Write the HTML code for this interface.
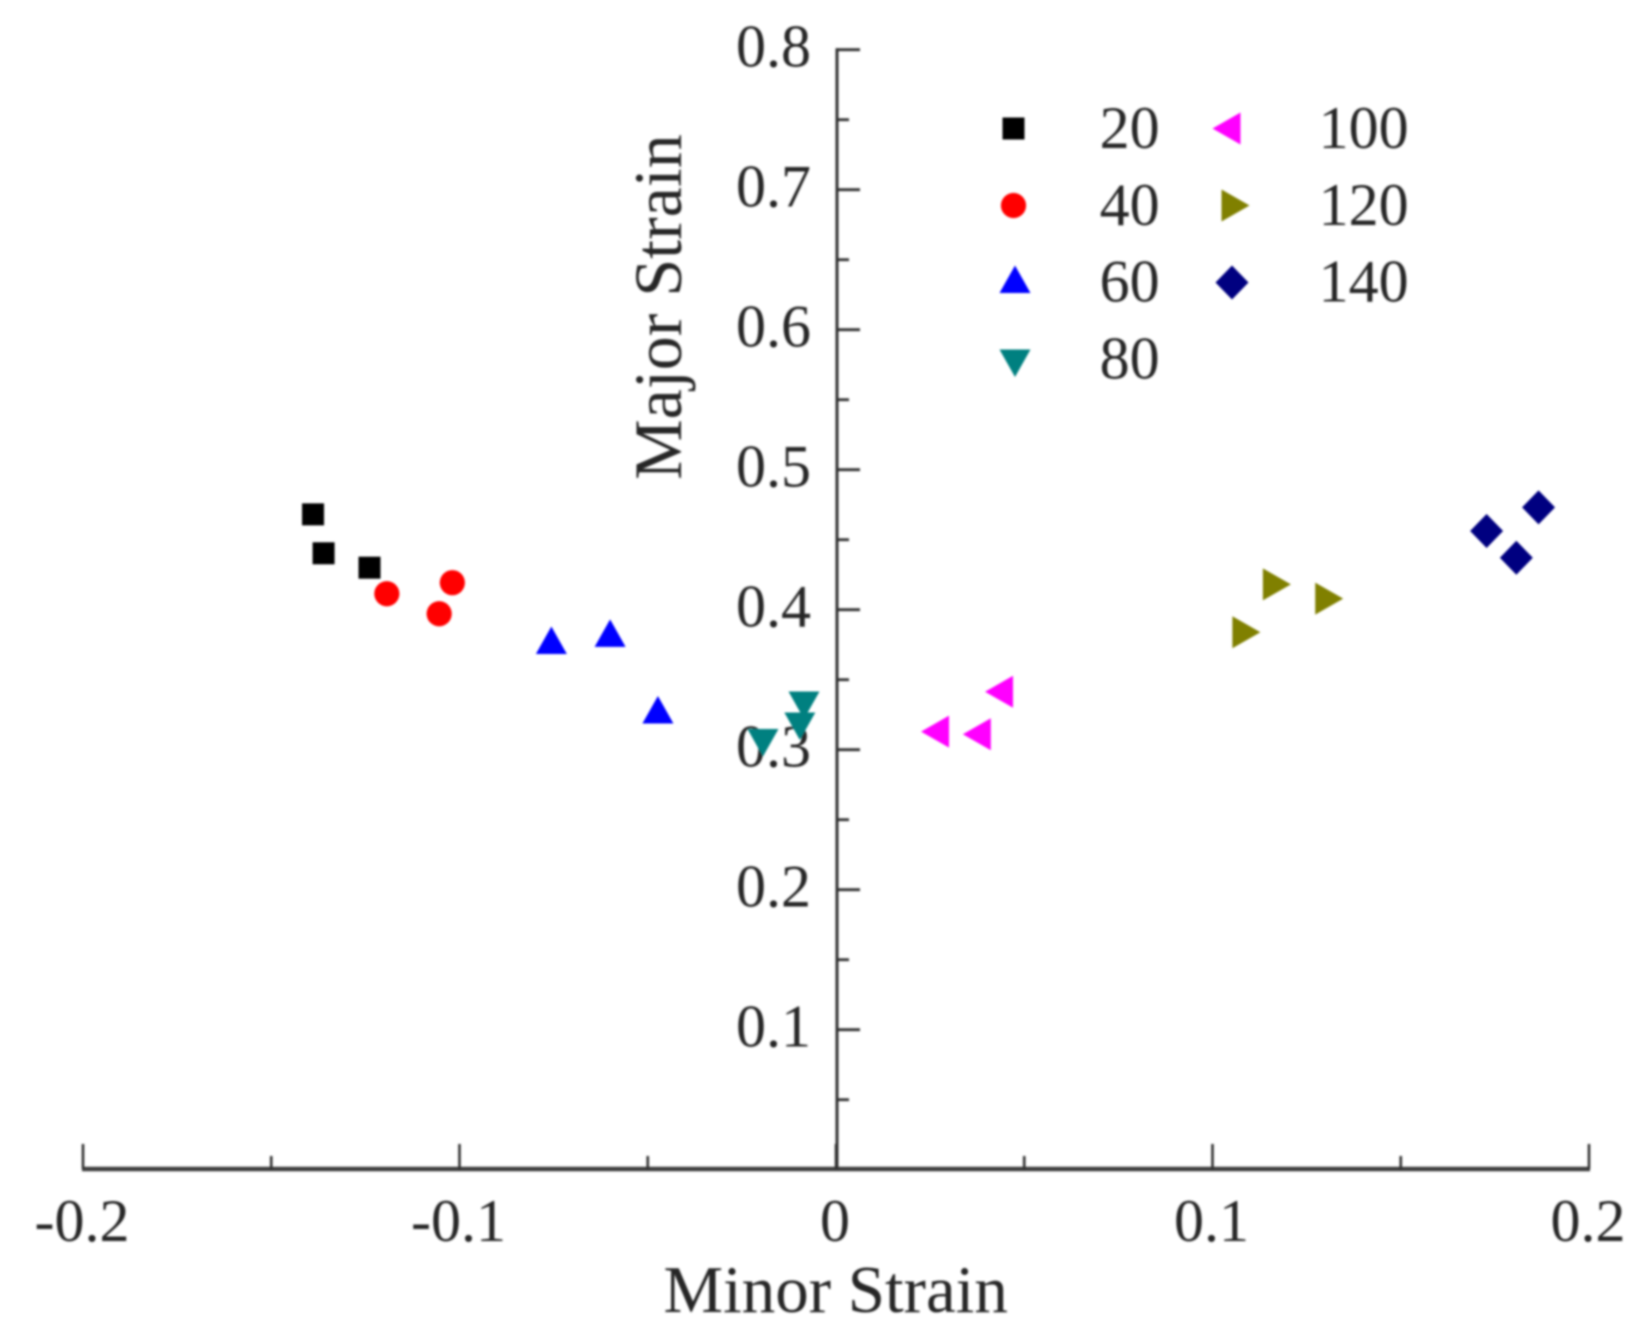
<!DOCTYPE html>
<html lang="en">
<head>
<meta charset="utf-8">
<title>Minor Strain vs Major Strain</title>
<style>
html,body{margin:0;padding:0;background:#fff;}
svg{display:block;}
text{font-family:"Liberation Serif",serif;fill:#262626;}
</style>
</head>
<body>
<svg id="chart" xmlns="http://www.w3.org/2000/svg" width="1641" height="1338" viewBox="0 0 1641 1338">
<defs>
<filter id="soft" filterUnits="userSpaceOnUse" x="0" y="0" width="1641" height="1338"><feGaussianBlur stdDeviation="0.95"/></filter>
</defs>
<rect width="1641" height="1338" fill="#fff"/>
<g id="root" filter="url(#soft)"></g>
</svg>
<script>
const xTicks = [-0.2, -0.15, -0.1, -0.05, 0, 0.05, 0.1, 0.15, 0.2];
const yTicks = [0.05, 0.1, 0.15, 0.2, 0.25, 0.3, 0.35, 0.4, 0.45, 0.5, 0.55, 0.6, 0.65, 0.7, 0.75, 0.8];
const xLabelValues = [-0.2, -0.1, 0, 0.1, 0.2];
const xLabelText = ["-0.2", "-0.1", "0", "0.1", "0.2"];
const yLabelValues = [0.1, 0.2, 0.3, 0.4, 0.5, 0.6, 0.7, 0.8];
const yLabelText = ["0.1", "0.2", "0.3", "0.4", "0.5", "0.6", "0.7", "0.8"];
const seriesNames = ["20", "40", "60", "80", "100", "120", "140"];
const seriesColors = ["#000000", "#ff0000", "#0000ff", "#008080", "#ff00ff", "#808000", "#000080"];
const seriesShapes = ["square", "circle", "up", "down", "left", "right", "diamond"];
const minor20 = [-0.1389, -0.1361, -0.1239];
const major20 = [0.4676, 0.4398, 0.4295];
const minor40 = [-0.1193, -0.1019, -0.1054];
const major40 = [0.4109, 0.4188, 0.3966];
const minor60 = [-0.0756, -0.0600, -0.0473];
const major60 = [0.3775, 0.3826, 0.3279];
const minor80 = [-0.0085, -0.0096, -0.0194];
const major80 = [0.3314, 0.3164, 0.3046];
const minor100 = [0.0263, 0.0374, 0.0433];
const major100 = [0.3124, 0.3105, 0.3409];
const minor120 = [0.1171, 0.1310, 0.1090];
const major120 = [0.4176, 0.4074, 0.3834];
const minor140 = [0.1866, 0.1728, 0.1807];
const major140 = [0.4726, 0.4557, 0.4366];
const seriesMinor = [minor20, minor40, minor60, minor80, minor100, minor120, minor140];
const seriesMajor = [major20, major40, major60, major80, major100, major120, major140];

const NS = "http://www.w3.org/2000/svg";
const root = document.getElementById("root");
const xAxisY = 1169;
const yAxisX = 837;
function sx(v) { return 836 + v * 3765; }
function sy(v) { return 1169 - v * 1400; }
function make(tag, attrs, parent) {
  const el = document.createElementNS(NS, tag);
  for (const k in attrs) el.setAttribute(k, attrs[k]);
  (parent || root).appendChild(el);
  return el;
}
function isMajor(v) { return Math.abs(v * 10 - Math.round(v * 10)) < 1e-6; }

// Axis lines
const xAxisLine = make("line", {x1: sx(-0.2) - 1, x2: sx(0.2) + 1, y1: xAxisY, y2: xAxisY, stroke: "#3c3c3c", "stroke-width": 4.4});


const yAxisLine = make("line", {x1: yAxisX, x2: yAxisX, y1: sy(0.8) - 0.8, y2: xAxisY, stroke: "#333", "stroke-width": 3});



// X ticks
xTicks.forEach(function (v) {
  const len = isMajor(v) ? 25 : 13;
  const t = make("line", {x1: sx(v), x2: sx(v), y1: xAxisY, y2: xAxisY - len, stroke: "#333", "stroke-width": 2.6});
  
  
});
// Y ticks
yTicks.forEach(function (v) {
  const len = isMajor(v) ? 23 : 12;
  const t = make("line", {x1: yAxisX, x2: yAxisX + len, y1: sy(v) + 0.7, y2: sy(v) + 0.7, stroke: "#333", "stroke-width": 2.8});
  
  
});
// X labels
xLabelValues.forEach(function (v, i) {
  const t = make("text", {x: sx(v) - 1, y: 1241, "text-anchor": "middle", "font-size": 60});
  t.textContent = xLabelText[i];
  
  
});
// Y labels
yLabelValues.forEach(function (v, i) {
  const t = make("text", {x: 811, y: sy(v) + 17.5, "text-anchor": "end", "font-size": 60});
  t.textContent = yLabelText[i];
  
  
});
// Titles
const xTitle = make("text", {x: 835.7, y: 1312, "text-anchor": "middle", "font-size": 67});
xTitle.textContent = "Minor Strain";


const yTitle = make("text", {x: 0, y: 0, "text-anchor": "middle", "font-size": 68, transform: "translate(681 307) rotate(-90)"});
yTitle.textContent = "Major Strain";



function marker(shape, cx, cy, color, parent) {
  let el;
  if (shape === "square") {
    el = make("rect", {x: cx - 11, y: cy - 11, width: 22, height: 22, fill: color}, parent);
  } else if (shape === "circle") {
    el = make("circle", {cx: cx, cy: cy, r: 12.6, fill: color}, parent);
  } else {
    let pts;
    if (shape === "up") pts = [[cx, cy - 14], [cx + 15.5, cy + 13.5], [cx - 15.5, cy + 13.5]];
    if (shape === "down") pts = [[cx - 15.5, cy - 13.5], [cx + 15.5, cy - 13.5], [cx, cy + 14]];
    if (shape === "left") pts = [[cx - 14, cy], [cx + 14, cy - 16], [cx + 14, cy + 16]];
    if (shape === "right") pts = [[cx - 14, cy - 16], [cx + 14, cy], [cx - 14, cy + 16]];
    if (shape === "diamond") pts = [[cx, cy - 17], [cx + 16.5, cy], [cx, cy + 17], [cx - 16.5, cy]];
    el = make("polygon", {points: pts.map(function (p) { return p.join(","); }).join(" "), fill: color}, parent);
  }
  return el;
}

// Series points
seriesNames.forEach(function (name, s) {
  const g = make("g", {});
  
  
  seriesMinor[s].forEach(function (mx, i) {
    const m = marker(seriesShapes[s], sx(mx), sy(seriesMajor[s][i]), seriesColors[s], g);
    
    
  });
});

// Legend
function legendNudgeX(shape) {
  if (shape === "up" || shape === "down") return 1.5;
  if (shape === "left") return -5.5;
  if (shape === "right") return 3.5;
  return 0;
}
function legendNudgeY(shape) {
  if (shape === "up") return -3;
  if (shape === "down") return 3.5;
  return 0;
}
const legend = make("g", {});


seriesNames.forEach(function (name, s) {
  const col = s < 4 ? 0 : 1;
  const row = s < 4 ? s : s - 4;
  const mx = (col === 0 ? 1013.5 : 1232) + legendNudgeX(seriesShapes[s]);
  const my = 128.5 + row * 77 + legendNudgeY(seriesShapes[s]);
  const key = marker(seriesShapes[s], mx, my, seriesColors[s], legend);
  
  
  const tx = make("text", {x: col === 0 ? 1159.6 : 1408.6, y: 148 + row * 76.8, "text-anchor": "end", "font-size": 60}, legend);
  tx.textContent = name;
  
  
});
</script>
</body>
</html>
